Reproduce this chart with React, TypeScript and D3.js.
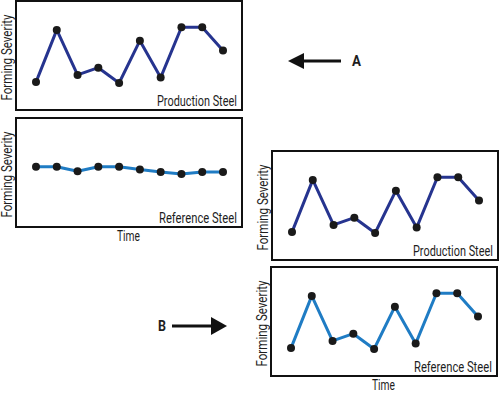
import { useEffect, useRef } from "react";
import * as d3 from "d3";

// time steps and severity readings (0-10 scale)
const steps = [1, 2, 3, 4, 5, 6, 7, 8, 9, 10];
const productionSeverity = [2.1, 7.9, 2.9, 3.7, 2.0, 6.7, 2.6, 8.2, 8.2, 5.6];
const referenceFlat = [5.7, 5.7, 5.2, 5.7, 5.7, 5.4, 5.1, 4.9, 5.1, 5.1];
const referenceMatched = [2.1, 7.9, 2.9, 3.7, 2.0, 6.7, 2.6, 8.2, 8.2, 5.6];

const panelLabels = ["Production Steel", "Reference Steel", "Production Steel", "Reference Steel"];
const yTitle = "Forming Severity";
const xTitle = "Time";

const font = "'Roboto', 'DejaVu Sans Condensed', sans-serif";

// condensed look: squeeze the text horizontally to a target length
function condensed(parent: any, txt: string, x: number, y: number, len: number, opts: { rotate?: boolean; bold?: boolean } = {}) {
    const t = parent.append("text")
        .attr("font-family", font)
        .attr("font-size", 14)
        .attr("font-weight", opts.bold ? "bold" : "normal")
        .attr("fill", "#1e1e1e")
        .text(txt);
    const natural = (t.node() as SVGTextElement).getComputedTextLength() || len;
    const k = len / natural;
    t.attr("transform", `translate(${x},${y})${opts.rotate ? " rotate(-90)" : ""} scale(${k},1)`);
    return t;
}

const App = () => {
    const ref = useRef<SVGSVGElement>(null);

    useEffect(() => {
        const svg = d3.select(ref.current);
        svg.selectAll("*").remove();

        const panels = [
            { x: 16, y: 1, values: productionSeverity, color: "#26348f", label: panelLabels[0], time: false },
            { x: 16, y: 118, values: referenceFlat, color: "#1f7cc4", label: panelLabels[1], time: true },
            { x: 272, y: 151, values: productionSeverity, color: "#26348f", label: panelLabels[2], time: false },
            { x: 271, y: 267, values: referenceMatched, color: "#1f7cc4", label: panelLabels[3], time: true },
        ];
        const w = 226, h = 109;

        panels.forEach((p) => {
            const g = svg.append("g").attr("transform", `translate(${p.x},${p.y})`);
            g.append("rect")
                .attr("width", w)
                .attr("height", h)
                .attr("fill", "#fff")
                .attr("stroke", "#111")
                .attr("stroke-width", 2);

            const x = d3.scaleLinear().domain([1, 10]).range([20, 207]);
            const y = d3.scaleLinear().domain([0, 10]).range([100, 10]);

            const line = d3.line<number>()
                .x((_, i) => x(steps[i]))
                .y((d) => y(d));
            g.append("path")
                .datum(p.values)
                .attr("fill", "none")
                .attr("stroke", p.color)
                .attr("stroke-width", 3)
                .attr("stroke-linejoin", "round")
                .attr("d", line);

            g.selectAll("circle")
                .data(p.values)
                .enter()
                .append("circle")
                .attr("cx", (_, i) => x(steps[i]))
                .attr("cy", (d) => y(d))
                .attr("r", 4)
                .attr("fill", "#1a1a1a");

            const labelLen = p.label.startsWith("Production") ? 80 : 78;
            condensed(g, p.label, w - 5 - labelLen, h - 4, labelLen);
            condensed(g, yTitle, -4, h / 2 + 45, 86, { rotate: true });
            if (p.time) condensed(g, xTitle, w / 2 - 12, h + 14, 23);
        });

        // arrow A (pointing left)
        svg.append("line")
            .attr("x1", 300).attr("x2", 341).attr("y1", 61).attr("y2", 61)
            .attr("stroke", "#111").attr("stroke-width", 3);
        svg.append("path")
            .attr("d", "M288,61 L304,53 L304,69 Z")
            .attr("fill", "#111");
        condensed(svg, "A", 352, 66, 9, { bold: true });

        // arrow B (pointing right)
        svg.append("line")
            .attr("x1", 172).attr("x2", 214).attr("y1", 326).attr("y2", 326)
            .attr("stroke", "#111").attr("stroke-width", 3);
        svg.append("path")
            .attr("d", "M227,326 L211,317 L211,335 Z")
            .attr("fill", "#111");
        condensed(svg, "B", 158, 331, 8, { bold: true });
    }, []);

    return (
        <svg
            ref={ref}
            width={500}
            height={394}
            style={{ position: "absolute", left: 0, top: 0, background: "#fff" }}
        />
    );
};

export default App;
